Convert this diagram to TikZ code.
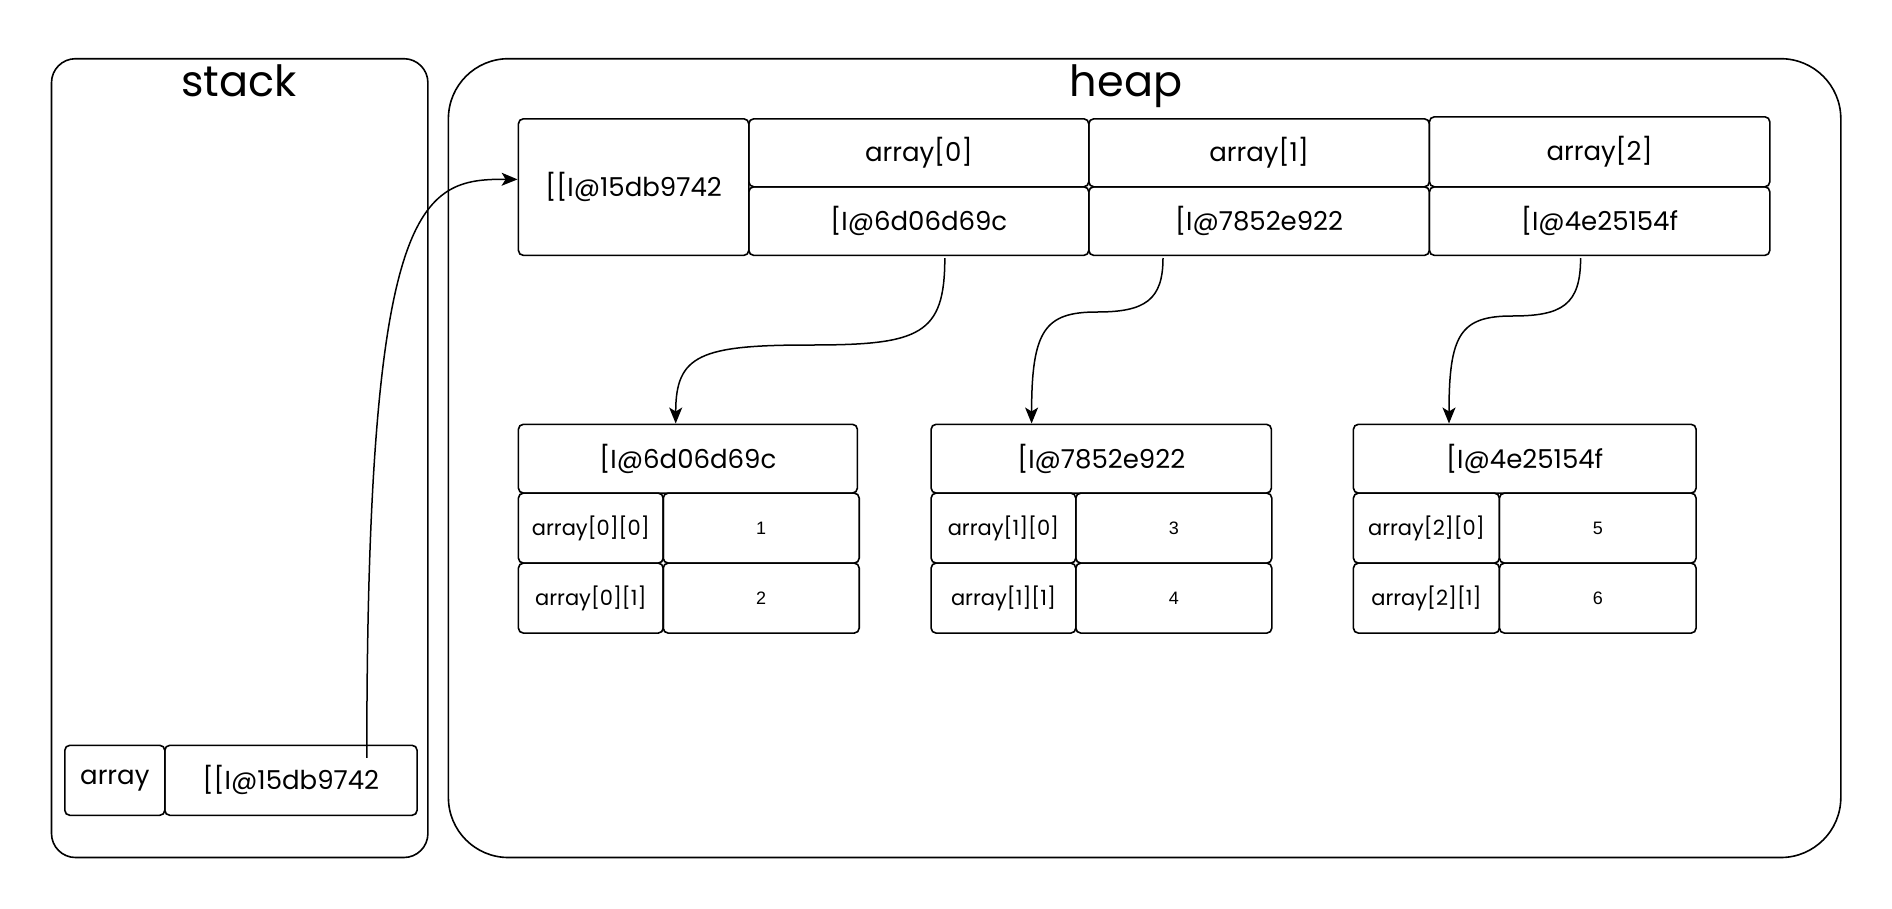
\documentclass[tikz,border=0pt]{standalone}
\usepackage{fontspec}
\setmainfont{Poppins}
\newfontfamily\numfont{Liberation Sans}
\usetikzlibrary{arrows.meta}
\begin{document}
\begin{tikzpicture}[x=1pt,y=-1pt,
  frame/.style={draw, line width=1.6pt, anchor=north west, inner sep=0pt},
  cell/.style={draw, line width=1.6pt, rounded corners=5pt, anchor=north west, inner sep=0pt, font=\fontsize{26}{30}\selectfont},
  small/.style={cell, font=\fontsize{21}{25}\selectfont},
  num/.style={cell, font=\numfont\fontsize{18}{21}\selectfont},
  addr/.style={cell, font=\fontsize{26}{30}\selectfont},
  title/.style={font=\fontsize{43}{48}\selectfont, inner sep=0pt, anchor=base},
  arr/.style={line width=1.5pt, -{Stealth[length=16pt, width=13pt, inset=4pt]}}]
\useasboundingbox (0,0) rectangle (1892,908);
% containers
\node[frame, rounded corners=24pt, minimum width=376.4pt, minimum height=798.8pt] (stack) at (50.7,57.9) {};
\node[frame, rounded corners=60pt, minimum width=1392.4pt, minimum height=798.8pt] (heap) at (447.6,57.9) {};
\node[title] (stacklbl) at (239,96) {stack};
\node[title] (heaplbl) at (1126,96) {heap};
% top array
\node[addr, minimum width=230.4pt, minimum height=136.6pt] (main) at (517.6,118) {[[I@15db9742};
\node[cell, minimum width=340pt, minimum height=68pt] (a0h) at (748,118) {array[0]};
\node[addr, minimum width=340pt, minimum height=68.6pt] (a0v) at (748,186) {[I@6d06d69c};
\node[cell, minimum width=340.6pt, minimum height=68pt] (a1h) at (1088,118) {array[1]};
\node[addr, minimum width=340.6pt, minimum height=68.6pt] (a1v) at (1088,186) {[I@7852e922};
\node[cell, minimum width=340.4pt, minimum height=70pt] (a2h) at (1428.6,116) {array[2]};
\node[addr, minimum width=340.4pt, minimum height=68.6pt] (a2v) at (1428.6,186) {[I@4e25154f};
% sub arrays
\node[addr, minimum width=339pt, minimum height=68.8pt] (b0) at (517.6,423.5) {[I@6d06d69c};
\node[small, minimum width=144.8pt, minimum height=70pt] (b00) at (517.6,492.3) {array[0][0]};
\node[num, minimum width=196pt, minimum height=70pt] (v00) at (662.4,492.3) {1};
\node[small, minimum width=144.8pt, minimum height=70pt] (b01) at (517.6,562.3) {array[0][1]};
\node[num, minimum width=196pt, minimum height=70pt] (v01) at (662.4,562.3) {2};

\node[addr, minimum width=340.3pt, minimum height=68.8pt] (b1) at (930.3,423.5) {[I@7852e922};
\node[small, minimum width=144.7pt, minimum height=70pt] (b10) at (930.3,492.3) {array[1][0]};
\node[num, minimum width=196pt, minimum height=70pt] (v10) at (1075,492.3) {3};
\node[small, minimum width=144.7pt, minimum height=70pt] (b11) at (930.3,562.3) {array[1][1]};
\node[num, minimum width=196pt, minimum height=70pt] (v11) at (1075,562.3) {4};

\node[addr, minimum width=342.7pt, minimum height=68.8pt] (b2) at (1352.6,423.5) {[I@4e25154f};
\node[small, minimum width=146pt, minimum height=70pt] (b20) at (1352.6,492.3) {array[2][0]};
\node[num, minimum width=196.7pt, minimum height=70pt] (v20) at (1498.6,492.3) {5};
\node[small, minimum width=146pt, minimum height=70pt] (b21) at (1352.6,562.3) {array[2][1]};
\node[num, minimum width=196.7pt, minimum height=70pt] (v21) at (1498.6,562.3) {6};
% stack cell
\node[cell, minimum width=100pt, minimum height=70pt] (sname) at (64,744.5) {array};
\node[addr, minimum width=252.3pt, minimum height=70pt] (sval) at (164,744.5) {[[I@15db9742};
% connectors
\coordinate (s0) at (366.8,757.8);
\coordinate (p0) at (944.8,258);
\coordinate (p1) at (1163,258);
\coordinate (p2) at (1580.6,258);
\draw[arr] (s0) .. controls (366.8,200) and (420,178.6) .. ([yshift=7.7pt]main.west);
\draw[arr] (p0) .. controls (944.8,335) and (920,345) .. (810,345)
               .. controls (700,345) and (675.7,355) .. (b0.north -| 675.7,0);
\draw[arr] (p1) .. controls (1163,300) and (1145,312) .. (1097,312)
               .. controls (1045,312) and (1031.6,330) .. (b1.north -| 1031.6,0);
\draw[arr] (p2) .. controls (1580.6,305) and (1562,316) .. (1512,316)
               .. controls (1460,316) and (1449,335) .. (b2.north -| 1449,0);
\end{tikzpicture}
\end{document}
